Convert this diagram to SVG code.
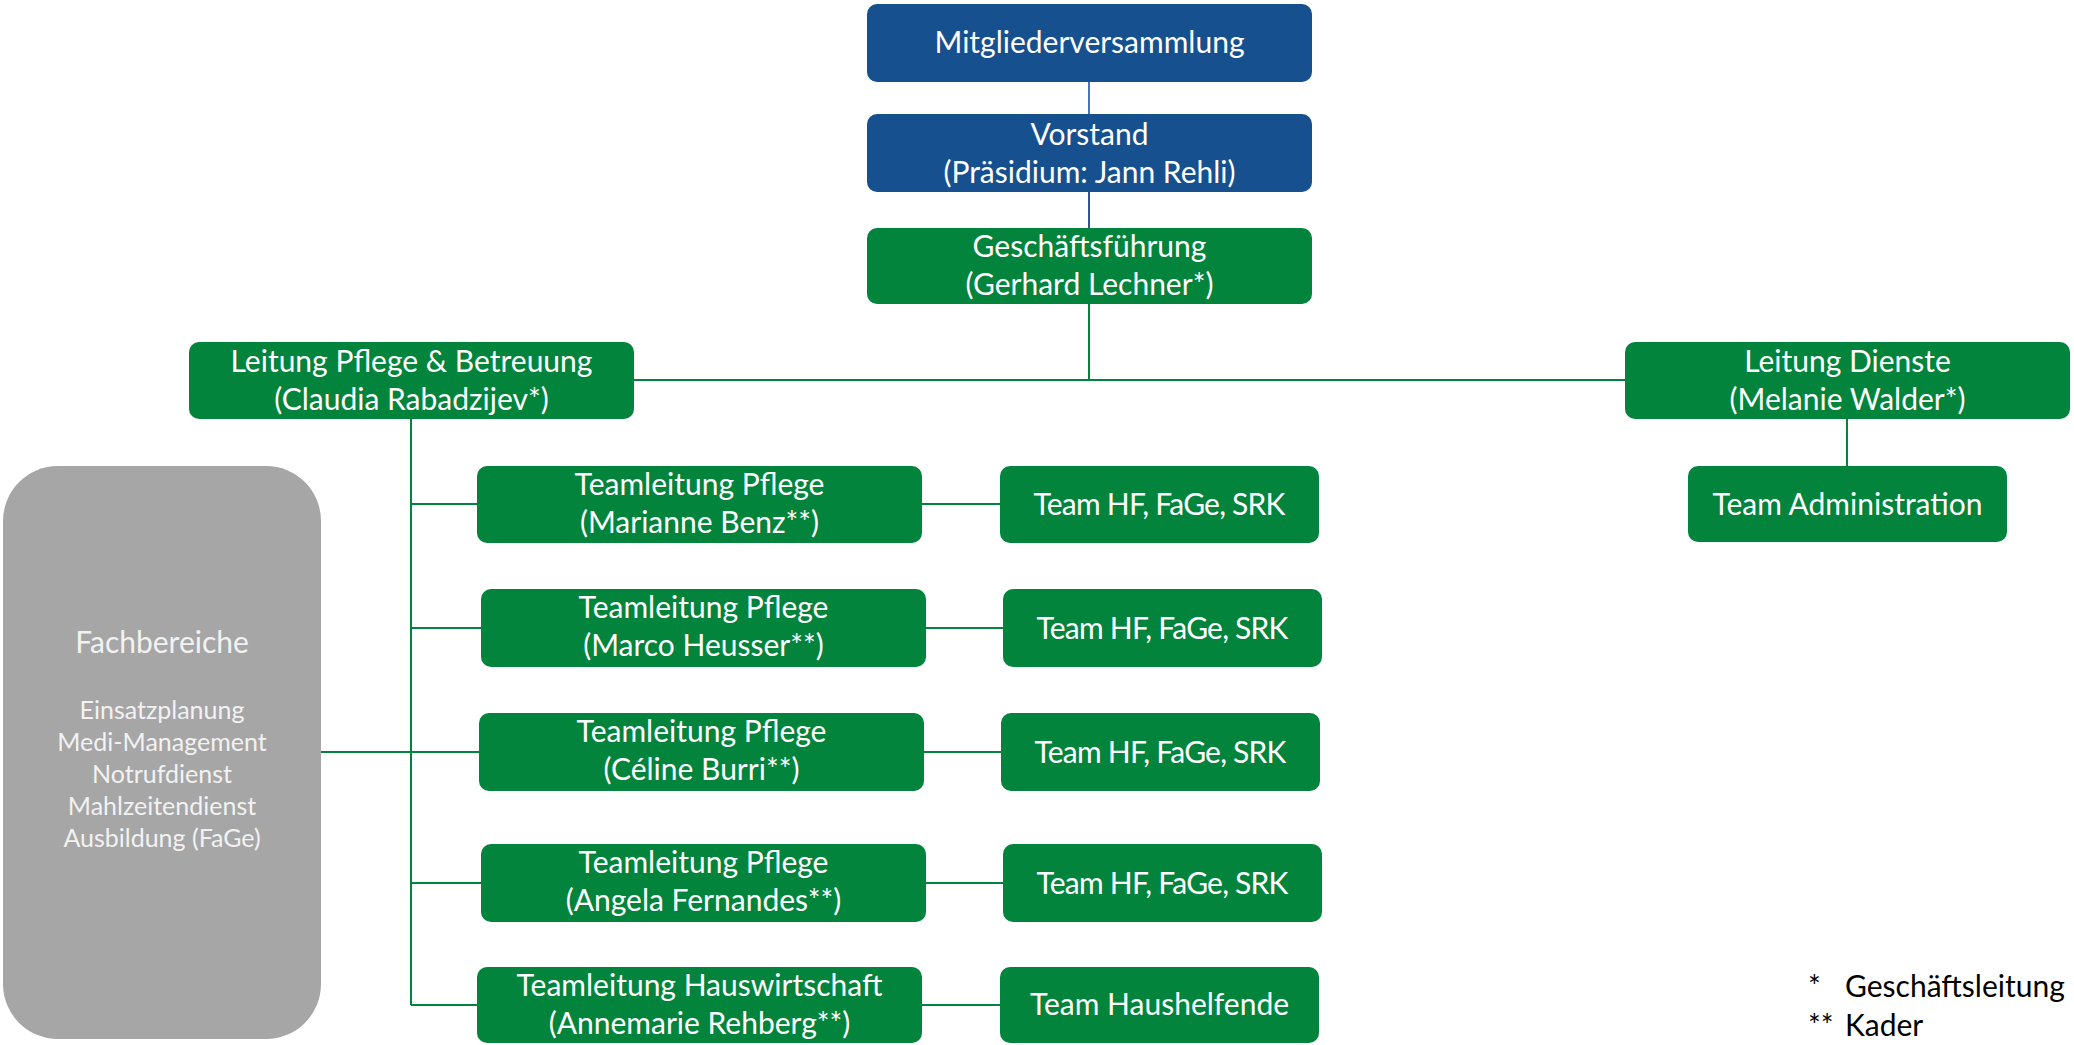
<svg xmlns="http://www.w3.org/2000/svg" width="2074" height="1045" viewBox="0 0 2074 1045">
<style>
.blue{fill:#17508F}
.green{fill:#02843D}
.gray{fill:#A6A6A6}
text{font-family:Lato,"Liberation Sans",sans-serif;font-size:30px;fill:#FFFFFF;text-anchor:middle}
.list{font-size:25px;fill:#F2F2F2}
.legend{fill:#000000;text-anchor:start}
.ln{stroke:#02843D;stroke-width:2;fill:none}
</style>
<rect width="2074" height="1045" fill="#FFFFFF"/>
<g id="connectors">
<line x1="1089" y1="82" x2="1089" y2="114" stroke="#4472C4" stroke-width="2"/>
<line x1="1089" y1="192" x2="1089" y2="228" stroke="#2F5597" stroke-width="2"/>
<line class="ln" x1="1089" y1="304" x2="1089" y2="380"/>
<line class="ln" x1="634" y1="380" x2="1625" y2="380"/>
<line class="ln" x1="1847" y1="419" x2="1847" y2="466"/>
<line class="ln" x1="411" y1="419" x2="411" y2="1005"/>
<line class="ln" x1="411" y1="504" x2="477" y2="504"/>
<line class="ln" x1="411" y1="628" x2="481" y2="628"/>
<line class="ln" x1="321" y1="752" x2="479" y2="752"/>
<line class="ln" x1="411" y1="883" x2="481" y2="883"/>
<line class="ln" x1="411" y1="1005" x2="477" y2="1005"/>
<line class="ln" x1="922" y1="504" x2="1000" y2="504"/>
<line class="ln" x1="926" y1="628" x2="1003" y2="628"/>
<line class="ln" x1="924" y1="752" x2="1001" y2="752"/>
<line class="ln" x1="926" y1="883" x2="1003" y2="883"/>
<line class="ln" x1="922" y1="1005" x2="1000" y2="1005"/>
</g>
<g id="mitgliederversammlung">
<rect class="blue" x="867" y="4" width="445" height="78" rx="10"/>
<text x="1089.5" y="53">Mitgliederversammlung</text>
</g>
<g id="vorstand">
<rect class="blue" x="867" y="114" width="445" height="78" rx="10"/>
<text x="1089.5" y="145">Vorstand</text>
<text x="1089.5" y="183">(Präsidium: Jann Rehli)</text>
</g>
<g id="geschaeftsfuehrung">
<rect class="green" x="867" y="228" width="445" height="76" rx="10"/>
<text x="1089.5" y="257">Geschäftsführung</text>
<text x="1089.5" y="295">(Gerhard Lechner*)</text>
</g>
<g id="leitung-pflege">
<rect class="green" x="189" y="342" width="445" height="77" rx="10"/>
<text x="411.5" y="372">Leitung Pflege &amp; Betreuung</text>
<text x="411.5" y="410">(Claudia Rabadzijev*)</text>
</g>
<g id="leitung-dienste">
<rect class="green" x="1625" y="342" width="445" height="77" rx="10"/>
<text x="1847.5" y="372">Leitung Dienste</text>
<text x="1847.5" y="410">(Melanie Walder*)</text>
</g>
<g id="team-administration">
<rect class="green" x="1688" y="466" width="319" height="76" rx="10"/>
<text x="1847.5" y="515">Team Administration</text>
</g>
<g id="fachbereiche">
<rect class="gray" x="3" y="466" width="318" height="573" rx="55"/>
<text x="162" y="653" style="fill:#F2F2F2">Fachbereiche</text>
<text class="list" x="162" y="719">Einsatzplanung</text>
<text class="list" x="162" y="751">Medi-Management</text>
<text class="list" x="162" y="783">Notrufdienst</text>
<text class="list" x="162" y="815">Mahlzeitendienst</text>
<text class="list" x="162" y="847">Ausbildung (FaGe)</text>
</g>
<g id="teamleitung-1">
<rect class="green" x="477" y="466" width="445" height="77" rx="10"/>
<text x="699.5" y="495">Teamleitung Pflege</text>
<text x="699.5" y="533">(Marianne Benz**)</text>
</g>
<g id="team-1">
<rect class="green" x="1000" y="466" width="319" height="77" rx="10"/>
<text x="1159.5" y="515" textLength="252" lengthAdjust="spacing">Team HF, FaGe, SRK</text>
</g>
<g id="teamleitung-2">
<rect class="green" x="481" y="589" width="445" height="78" rx="10"/>
<text x="703.5" y="618">Teamleitung Pflege</text>
<text x="703.5" y="656">(Marco Heusser**)</text>
</g>
<g id="team-2">
<rect class="green" x="1003" y="589" width="319" height="78" rx="10"/>
<text x="1162.5" y="639" textLength="252" lengthAdjust="spacing">Team HF, FaGe, SRK</text>
</g>
<g id="teamleitung-3">
<rect class="green" x="479" y="713" width="445" height="78" rx="10"/>
<text x="701.5" y="742">Teamleitung Pflege</text>
<text x="701.5" y="780">(Céline Burri**)</text>
</g>
<g id="team-3">
<rect class="green" x="1001" y="713" width="319" height="78" rx="10"/>
<text x="1160.5" y="763" textLength="252" lengthAdjust="spacing">Team HF, FaGe, SRK</text>
</g>
<g id="teamleitung-4">
<rect class="green" x="481" y="844" width="445" height="78" rx="10"/>
<text x="703.5" y="873">Teamleitung Pflege</text>
<text x="703.5" y="911">(Angela Fernandes**)</text>
</g>
<g id="team-4">
<rect class="green" x="1003" y="844" width="319" height="78" rx="10"/>
<text x="1162.5" y="894" textLength="252" lengthAdjust="spacing">Team HF, FaGe, SRK</text>
</g>
<g id="teamleitung-5">
<rect class="green" x="477" y="967" width="445" height="76" rx="10"/>
<text x="699.5" y="996">Teamleitung Hauswirtschaft</text>
<text x="699.5" y="1034">(Annemarie Rehberg**)</text>
</g>
<g id="team-5">
<rect class="green" x="1000" y="967" width="319" height="76" rx="10"/>
<text x="1159.5" y="1015">Team Haushelfende</text>
</g>
<g id="legend">
<text class="legend" x="1808" y="997">*</text>
<text class="legend" x="1845" y="997">Geschäftsleitung</text>
<text class="legend" x="1808" y="1036">**</text>
<text class="legend" x="1845" y="1036">Kader</text>
</g>
</svg>
